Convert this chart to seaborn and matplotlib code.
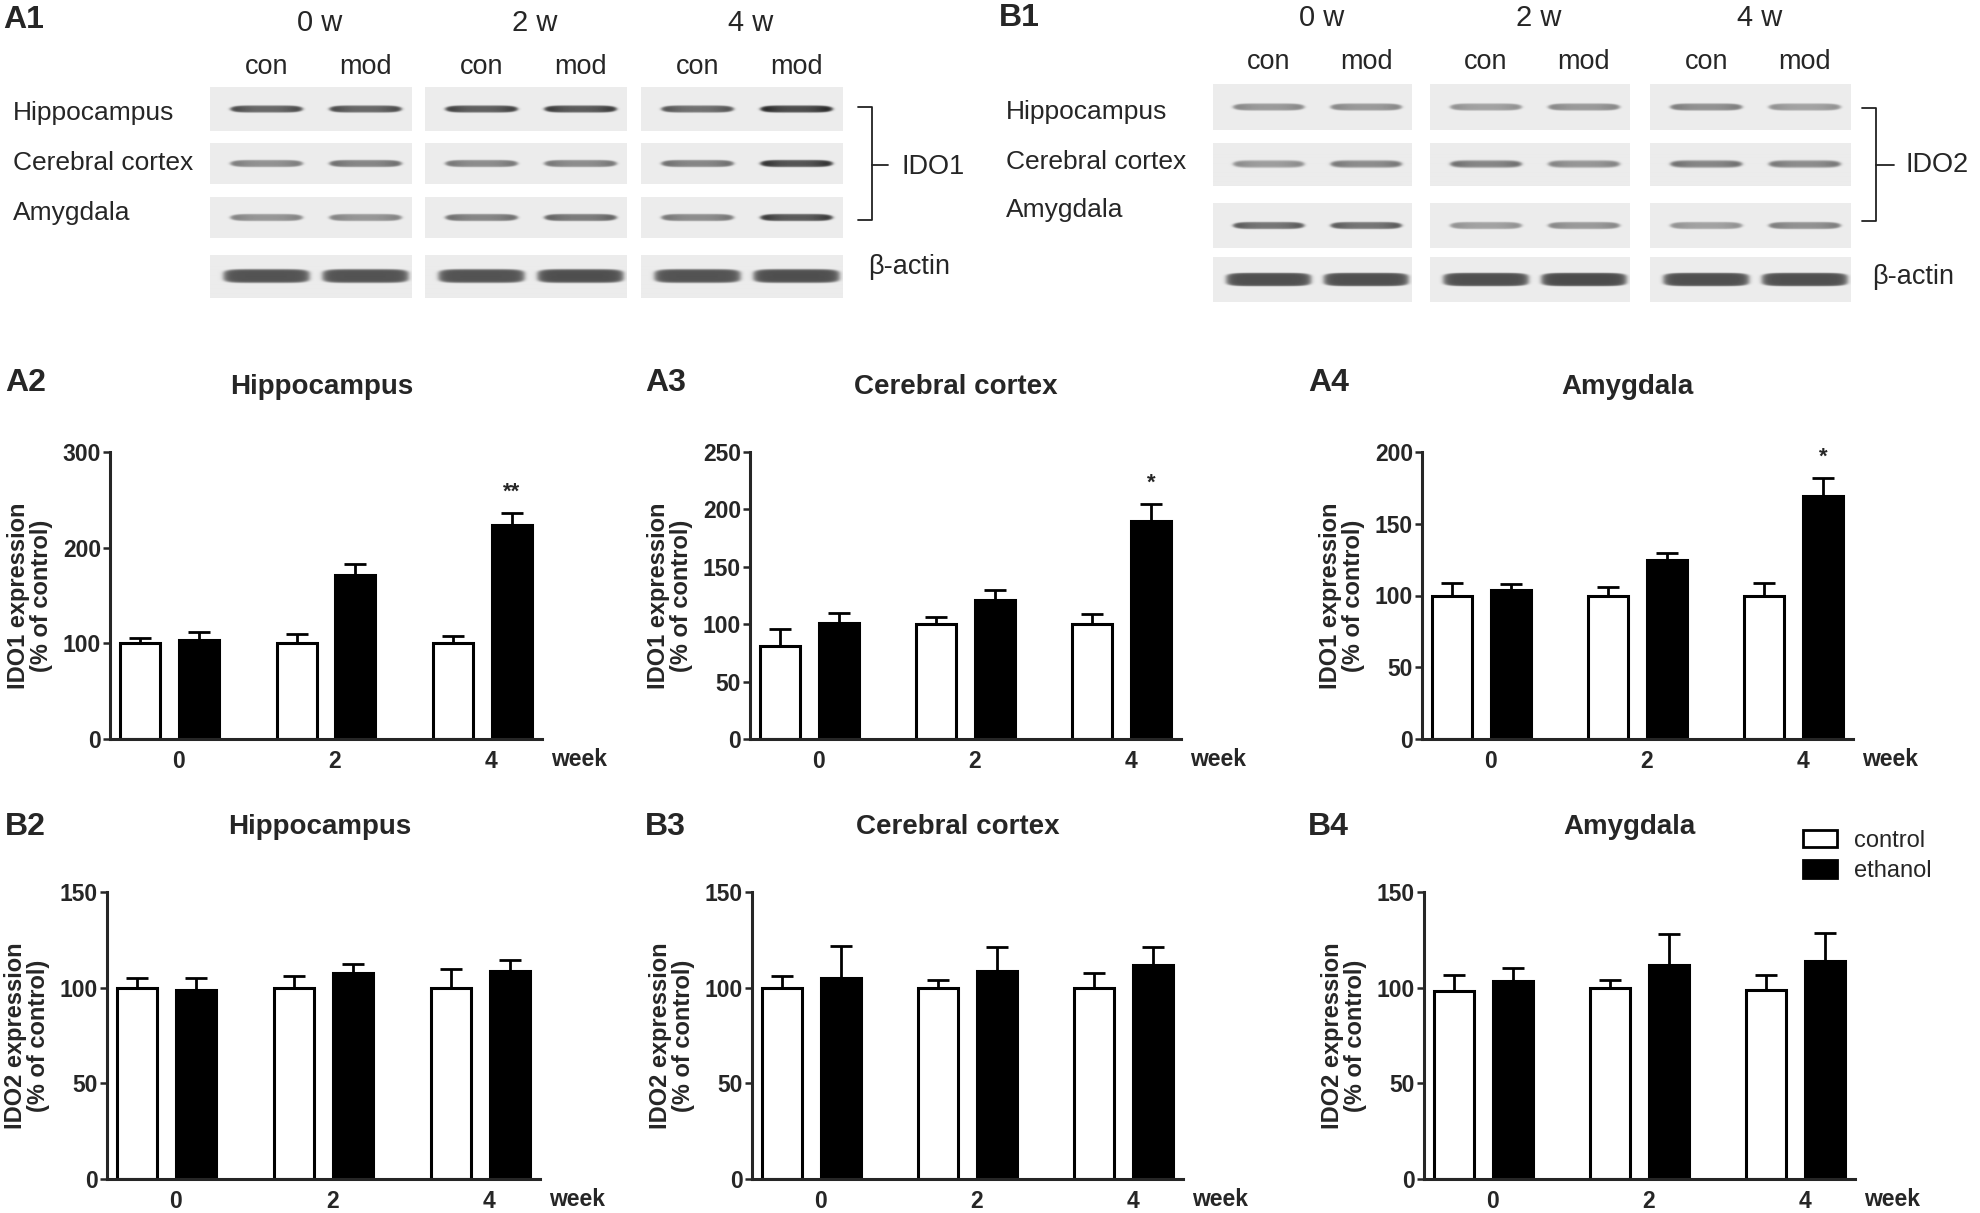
import numpy as np
import pandas as pd
import seaborn as sns
import matplotlib.pyplot as plt
from matplotlib.patches import Patch
from matplotlib.lines import Line2D

# ---- data ----
weeks = ['0', '2', '4']
groups = ['control', 'ethanol']
regions = ['Hippocampus', 'Cerebral cortex', 'Amygdala']

ido1_hip_ctrl, ido1_hip_ctrl_err = [100, 100, 100], [6, 10, 8]
ido1_hip_eth, ido1_hip_eth_err = [104, 171, 224], [8, 11.5, 12.5]
ido1_ctx_ctrl, ido1_ctx_ctrl_err = [81, 100, 100], [15, 6, 8.5]
ido1_ctx_eth, ido1_ctx_eth_err = [101, 121, 190], [9, 9, 15]
ido1_amy_ctrl, ido1_amy_ctrl_err = [100, 100, 100], [9, 6, 9]
ido1_amy_eth, ido1_amy_eth_err = [103.5, 124.5, 169], [4.5, 5, 13]

ido2_hip_ctrl, ido2_hip_ctrl_err = [100, 100, 100], [5, 6, 10]
ido2_hip_eth, ido2_hip_eth_err = [99, 107.5, 108.5], [6, 5, 6]
ido2_ctx_ctrl, ido2_ctx_ctrl_err = [100, 100, 100], [6, 4, 7.5]
ido2_ctx_eth, ido2_ctx_eth_err = [105, 108.5, 112], [17, 13, 9.5]
ido2_amy_ctrl, ido2_amy_ctrl_err = [98, 100, 99], [8.5, 4, 7.5]
ido2_amy_eth, ido2_amy_eth_err = [103.5, 112, 114], [7, 16, 14.5]

ido1_hip_sig = ['', '', '**']
ido1_ctx_sig = ['', '', '*']
ido1_amy_sig = ['', '', '*']

# western blot band darkness (0 = none, 1 = black), lanes: con/mod at 0, 2, 4 w
blot_lanes = ['con', 'mod']
blot_weeks = ['0 w', '2 w', '4 w']
ido1_blot_hip = [0.80, 0.80, 0.85, 0.88, 0.75, 0.97]
ido1_blot_ctx = [0.55, 0.62, 0.58, 0.58, 0.62, 0.92]
ido1_blot_amy = [0.52, 0.52, 0.62, 0.68, 0.58, 0.88]
ido1_blot_actin = [0.72, 0.72, 0.72, 0.74, 0.72, 0.74]
ido2_blot_hip = [0.50, 0.50, 0.45, 0.50, 0.55, 0.45]
ido2_blot_ctx = [0.48, 0.58, 0.62, 0.52, 0.62, 0.58]
ido2_blot_amy = [0.72, 0.72, 0.45, 0.50, 0.45, 0.55]
ido2_blot_actin = [0.74, 0.74, 0.74, 0.76, 0.74, 0.74]

# ---- figure ----
W, H = 1981, 1213
sns.set_style('white')
plt.rcParams['font.family'] = ['Liberation Sans', 'DejaVu Sans']
fig = plt.figure(figsize=(W / 100, H / 100), dpi=100)


def fx(x):
    return x / W


def fy(y):
    return 1 - y / H


def px_rect(l, t, r, b):
    return [l / W, 1 - b / H, (r - l) / W, (b - t) / H]


bar_colors = {'control': 'white', 'ethanol': 'black'}


def bar_panel(box, ctrl, ctrl_err, eth, eth_err, ymax, step, ylabel, title, tag, tag_xy,
              sig=None, title_dx=-10):
    l, t, r, b = box
    ax = fig.add_axes(px_rect(l, t, r, b))
    df = pd.DataFrame({'week': weeks * 2,
                       'group': ['control'] * 3 + ['ethanol'] * 3,
                       'value': ctrl + eth})
    sns.barplot(data=df, x='week', y='value', hue='group', order=weeks, hue_order=groups,
                palette=bar_colors, edgecolor='black', linewidth=2.2, width=0.752, gap=0.32,
                errorbar=None, legend=False, ax=ax)
    bars = sorted(ax.patches, key=lambda p: p.get_x())
    means = [v for pair in zip(ctrl, eth) for v in pair]
    errs = [v for pair in zip(ctrl_err, eth_err) for v in pair]
    for p, m, e in zip(bars, means, errs):
        xc = p.get_x() + p.get_width() / 2
        ax.errorbar(xc, m, yerr=[[0], [e]], fmt='none', ecolor='black',
                    elinewidth=2, capsize=8, capthick=2, zorder=0.5)
    if sig:
        eth_bars = bars[1::2]
        for p, m, e, s in zip(eth_bars, eth, eth_err, sig):
            if s:
                ax.annotate(s, xy=(p.get_x() + p.get_width() / 2, m + e), xytext=(0, 10),
                            textcoords='offset pixels', ha='center', va='bottom',
                            fontsize=16, fontweight='bold')

    ax.set_xlim(-0.38, 2.38)
    ax.set_ylim(0, ymax)
    ax.set_yticks(np.arange(0, ymax + 1, step))
    ax.set_xticks(np.arange(len(weeks)) + 0.057, weeks)
    ax.tick_params(axis='x', length=0, pad=8, labelsize=16.5)
    ax.tick_params(axis='y', length=5, width=1.8, pad=1.5, labelsize=16.5, direction='out', left=True)
    for lab in ax.get_xticklabels() + ax.get_yticklabels():
        lab.set_fontweight('bold')
    sns.despine(ax=ax)
    for s in ['left', 'bottom']:
        ax.spines[s].set_linewidth(2.2)
    ax.set_xlabel('')
    ax.set_ylabel(ylabel, fontsize=17, fontweight='bold', linespacing=0.95, va='center')
    ax.yaxis.set_label_coords(-80 / (r - l), 0.5)
    ax.set_title(title, fontsize=20, fontweight='bold', pad=42, x=0.5 + title_dx / (r - l))
    ax.annotate('week', xy=(1, 0), xycoords='axes fraction', xytext=(9, -21),
                textcoords='offset pixels', ha='left', va='center', fontsize=16.5, fontweight='bold')
    fig.text(fx(tag_xy[0]), fy(tag_xy[1]), tag, fontsize=23, fontweight='bold', ha='left', va='center')
    return ax


lab1 = 'IDO1 expression\n(% of control)'
lab2 = 'IDO2 expression\n(% of control)'
bar_panel((110, 452, 542, 739), ido1_hip_ctrl, ido1_hip_ctrl_err, ido1_hip_eth, ido1_hip_eth_err,
          300, 100, lab1, regions[0], 'A2', (5, 383), ido1_hip_sig, title_dx=-4)
bar_panel((750, 452, 1181, 739), ido1_ctx_ctrl, ido1_ctx_ctrl_err, ido1_ctx_eth, ido1_ctx_eth_err,
          250, 50, lab1, regions[1], 'A3', (645, 383), ido1_ctx_sig)
bar_panel((1422, 452, 1853, 739), ido1_amy_ctrl, ido1_amy_ctrl_err, ido1_amy_eth, ido1_amy_eth_err,
          200, 50, lab1, regions[2], 'A4', (1308, 383), ido1_amy_sig)
bar_panel((107, 892, 540, 1179), ido2_hip_ctrl, ido2_hip_ctrl_err, ido2_hip_eth, ido2_hip_eth_err,
          150, 50, lab2, regions[0], 'B2', (5, 827), title_dx=-4)
bar_panel((752, 892, 1183, 1179), ido2_ctx_ctrl, ido2_ctx_ctrl_err, ido2_ctx_eth, ido2_ctx_eth_err,
          150, 50, lab2, regions[1], 'B3', (645, 827))
bar_panel((1424, 892, 1855, 1179), ido2_amy_ctrl, ido2_amy_ctrl_err, ido2_amy_eth, ido2_amy_eth_err,
          150, 50, lab2, regions[2], 'B4', (1308, 827))

handles = [Patch(facecolor=bar_colors[g], edgecolor='black', linewidth=2) for g in groups]
fig.legend(handles, groups, loc='upper left', bbox_to_anchor=(fx(1803), fy(830)), frameon=False,
           fontsize=17, handlelength=1.45, handleheight=0.75, handletextpad=0.7,
           labelspacing=0.35, borderpad=0, borderaxespad=0)

# ---- western blots ----
LANE_POS = [0.28, 0.77]


def blot_image(levels, w, h, actin=False):
    xs = np.arange(w) + 0.5
    ys = np.arange(h) + 0.5 - h / 2
    X, Y = np.meshgrid(xs, ys)
    img = np.zeros((h, w))
    half_w = 0.21 * w if actin else 0.175 * w
    half_h = 6.5 if actin else 3.4
    for lx, level in zip(LANE_POS, levels):
        dx = (X - lx * w) / half_w
        r = np.abs(dx) ** 6 + np.abs(Y / half_h) ** (4 if actin else 2)
        prof = 1 / (1 + np.exp((r - 1) / 0.25))
        if not actin:
            # bands are darker towards both ends
            prof = prof * (0.78 + 0.35 * np.abs(dx) ** 3)
        img += level * prof
    bg = 0.925
    return bg - np.clip(img, 0, 1) * (bg - 0.08)


def blot_panel(cols, rows, rows_levels, tag, tag_xy, head_y, lane_y, label_x, label_ys,
               actin_xy, ido_name, ido_xy, bracket):
    for ci, (cl, cr) in enumerate(cols):
        for ri, (rt, rb) in enumerate(rows):
            ax = fig.add_axes(px_rect(cl, rt, cr, rb))
            levels = rows_levels[ri][2 * ci:2 * ci + 2]
            img = blot_image(levels, int(cr - cl), int(rb - rt), actin=(ri == len(rows) - 1))
            ax.imshow(img, cmap='gray', vmin=0, vmax=1, aspect='auto', interpolation='bilinear')
            ax.set_axis_off()
        fig.text(fx((cl + cr) / 2 + 9), fy(head_y), blot_weeks[ci], fontsize=21, ha='center', va='center')
        for li, lane in enumerate(blot_lanes):
            fig.text(fx(cl + LANE_POS[li] * (cr - cl)), fy(lane_y), lane, fontsize=19.5,
                     ha='center', va='center')
    for name, ly in zip(regions, label_ys):
        fig.text(fx(label_x), fy(ly), name, fontsize=19, ha='left', va='center')
    fig.text(fx(actin_xy[0]), fy(actin_xy[1]), '\u03b2-actin', fontsize=19.5, ha='left', va='center')
    fig.text(fx(ido_xy[0]), fy(ido_xy[1]), ido_name, fontsize=19.5, ha='left', va='center')
    bx0, bx1, by0, by1, bym, bxp = bracket
    fig.add_artist(Line2D([fx(bx0), fx(bx1), fx(bx1), fx(bx0)], [fy(by0), fy(by0), fy(by1), fy(by1)],
                          color='#222222', lw=1.3))
    fig.add_artist(Line2D([fx(bx1), fx(bxp)], [fy(bym), fy(bym)], color='#222222', lw=1.3))
    fig.text(fx(tag_xy[0]), fy(tag_xy[1]), tag, fontsize=23, fontweight='bold', ha='left', va='center')


blot_panel([(210, 412), (425, 627), (641, 843)],
           [(87, 131), (143, 184), (197, 238), (255, 298)],
           [ido1_blot_hip, ido1_blot_ctx, ido1_blot_amy, ido1_blot_actin],
           'A1', (3, 20), 23, 67, 13, [113, 163, 213], (868, 267), 'IDO1', (902, 167),
           (858, 872, 107, 220, 165, 888))
blot_panel([(1213, 1412), (1430, 1630), (1650, 1851)],
           [(84, 130), (143, 186), (203, 248), (257, 302)],
           [ido2_blot_hip, ido2_blot_ctx, ido2_blot_amy, ido2_blot_actin],
           'B1', (999, 18), 18, 62, 1006, [112, 162, 210], (1872, 277), 'IDO2', (1906, 165),
           (1862, 1876, 108, 221, 165, 1894))

fig.savefig('out.png', dpi=100, facecolor='white')
